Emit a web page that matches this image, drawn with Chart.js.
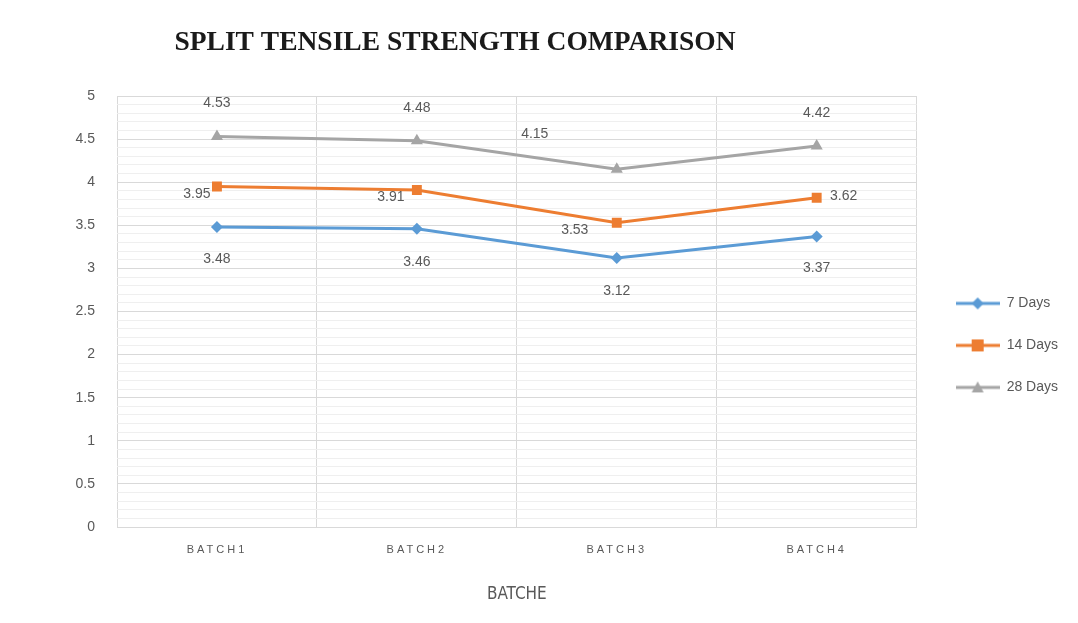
<!DOCTYPE html>
<html>
<head>
<meta charset="utf-8">
<script src="https://cdn.jsdelivr.net/npm/chart.js@4.4.1/dist/chart.umd.min.js"></script>
<style>
  html, body { margin: 0; padding: 0; background: #fff; }
  #wrap { position: relative; width: 1078px; height: 623px; }
</style>
</head>
<body>
<div id="wrap"><canvas id="chart" width="1078" height="623"></canvas></div>
<script>
// data
const batches = ["BATCH1", "BATCH2", "BATCH3", "BATCH4"];
const seriesNames = ["7 Days", "14 Days", "28 Days"];
const days7 = [3.48, 3.46, 3.12, 3.37];
const days14 = [3.95, 3.91, 3.53, 3.82];
const days28 = [4.53, 4.48, 4.15, 4.42];
// value labels as printed on the chart
const labels7 = ["3.48", "3.46", "3.12", "3.37"];
const labels14 = ["3.95", "3.91", "3.53", "3.62"];
const labels28 = ["4.53", "4.48", "4.15", "4.42"];

const TEXT = "#595959";
const COLORS = ["#5B9BD5", "#ED7D31", "#A5A5A5"];
const MARKERS = ["rectRot", "rect", "triangle"];

// legend icon: short line with marker in the middle
function legendIcon(color, style) {
  const c = document.createElement("canvas");
  c.width = 44; c.height = 16;
  const g = c.getContext("2d");
  g.strokeStyle = color; g.fillStyle = color; g.lineWidth = 3;
  g.beginPath(); g.moveTo(0, 8); g.lineTo(44, 8); g.stroke();
  g.beginPath();
  if (style === "rectRot") { g.moveTo(22, 2); g.lineTo(28, 8); g.lineTo(22, 14); g.lineTo(16, 8); }
  else if (style === "rect") { g.rect(16, 2, 12, 12); }
  else { g.moveTo(22, 2); g.lineTo(28, 13); g.lineTo(16, 13); }
  g.closePath(); g.fill();
  return c;
}

// custom title (sits left of centre in the original)
const titlePlugin = {
  id: "leftTitle",
  afterDraw(chart) {
    const ctx = chart.ctx;
    ctx.save();
    ctx.font = "bold 27.5px 'Liberation Serif', 'DejaVu Serif', serif";
    ctx.fillStyle = "#1a1a1a";
    ctx.textAlign = "center";
    ctx.textBaseline = "middle";
    ctx.fillText("SPLIT TENSILE STRENGTH COMPARISON", 455, 43);
    ctx.restore();
  },
};

// push the legend a bit further right of the plot
const legendShift = {
  id: "legendShift",
  afterLayout(chart) {
    const lg = chart.legend;
    const w = lg.width;
    lg.left = chart.chartArea.right + 11;
    lg.right = lg.left + w;
  },
};

// value labels next to the points
const valueLabels = [labels7, labels14, labels28];
const labelOffsets = [
  [[0, 32], [0, 33], [0, 33], [0, 32]],
  [[-20, 8], [-26, 7], [-42, 7], [27, -2]],
  [[0, -33], [0, -33], [-82, -35], [0, -33]],
];
const dataLabelPlugin = {
  id: "valueLabels",
  afterDatasetsDraw(chart) {
    const ctx = chart.ctx;
    ctx.save();
    ctx.font = "14px 'Liberation Sans', Arial, sans-serif";
    ctx.fillStyle = TEXT;
    ctx.textAlign = "center";
    ctx.textBaseline = "middle";
    chart.data.datasets.forEach((ds, di) => {
      const meta = chart.getDatasetMeta(di);
      meta.data.forEach((pt, i) => {
        const [dx, dy] = labelOffsets[di][i];
        ctx.fillText(valueLabels[di][i], pt.x + dx, pt.y + dy);
      });
    });
    ctx.restore();
  },
};

// spaced-out category labels
const spacedTicks = {
  id: "spacedTicks",
  beforeDraw(chart) {
    const sc = chart.scales.x;
    if (sc._spaced) return;
    const orig = sc.drawLabels.bind(sc);
    sc.drawLabels = function (area) {
      const c = this.ctx;
      const prev = c.letterSpacing;
      c.letterSpacing = "3px";
      orig(area);
      c.letterSpacing = prev;
    };
    sc._spaced = true;
  },
};

const isMajor = (v) => Math.abs(v * 2 - Math.round(v * 2)) < 1e-6;

new Chart(document.getElementById("chart"), {
  type: "line",
  data: {
    labels: batches,
    datasets: [days7, days14, days28].map((d, i) => ({
      label: seriesNames[i],
      data: d,
      borderColor: COLORS[i],
      backgroundColor: COLORS[i],
      borderWidth: 3,
      pointStyle: MARKERS[i],
      pointRadius: i === 0 ? 6 : 7,
      pointBorderWidth: 0,
      tension: 0,
    })),
  },
  options: {
    responsive: false,
    animation: false,
    layout: { padding: { top: 96, right: 21, bottom: 0, left: 0 } },
    plugins: {
      title: { display: false },
      tooltip: { enabled: false },
      legend: {
        position: "right",
        align: "start",
        title: { display: true, text: " ", padding: { top: 158, bottom: 0 } },
        labels: {
          usePointStyle: true,
          pointStyleWidth: 44,
          color: TEXT,
          padding: 28,
          font: { family: "'Liberation Sans', Arial, sans-serif", size: 14 },
          generateLabels(chart) {
            return chart.data.datasets.map((ds, i) => ({
              text: ds.label,
              fillStyle: ds.borderColor,
              strokeStyle: ds.borderColor,
              fontColor: TEXT,
              pointStyle: legendIcon(ds.borderColor, MARKERS[i]),
              datasetIndex: i,
              hidden: false,
              lineWidth: 0,
            }));
          },
        },
      },
    },
    scales: {
      x: {
        offset: true,
        grid: { offset: true, color: "#d9d9d9", drawTicks: false },
        border: { color: "#d9d9d9" },
        ticks: {
          color: TEXT,
          padding: 16,
          font: { family: "'Liberation Sans', Arial, sans-serif", size: 11 },
        },
        title: {
          display: true,
          text: "BATCHE",
          color: TEXT,
          padding: { top: 18, bottom: 18 },
          font: { family: "'Liberation Sans Narrow', 'DejaVu Sans Condensed', sans-serif", size: 17 },
        },
        afterFit(scale) { scale.height = 96; },
      },
      y: {
        min: 0,
        max: 5,
        grid: {
          drawTicks: false,
          color: (ctx) => (isMajor(ctx.tick.value) ? "#d9d9d9" : "#efefef"),
        },
        border: { display: false },
        ticks: {
          stepSize: 0.1,
          autoSkip: false,
          color: TEXT,
          padding: 22,
          font: { family: "'Liberation Sans', Arial, sans-serif", size: 14 },
          callback: (v) => (isMajor(v) ? String(Math.round(v * 10) / 10) : ""),
        },
        afterFit(scale) { scale.width = 117; },
      },
    },
  },
  plugins: [titlePlugin, dataLabelPlugin, spacedTicks, legendShift],
});
</script>
</body>
</html>
